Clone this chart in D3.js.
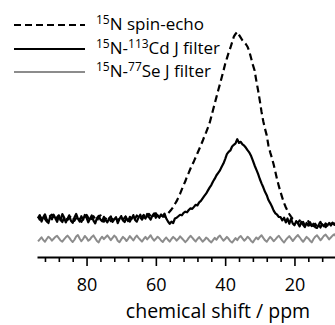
<!DOCTYPE html>
<html>
<head>
<meta charset="utf-8">
<script src="https://cdn.jsdelivr.net/npm/d3@7"></script>
<style>
  body { margin: 0; background: #fff; }
  svg { display: block; font-family: "Open Sans", sans-serif; }
</style>
</head>
<body>
<div id="chart"></div>
<script>
// sampling grid, ppm (94 -> 8, step 0.5)
const ppm = d3.range(94, 7.99, -0.5);

// 15N spin-echo
const spinEcho = [
  1.8, 0.2, 1.4, 2.6, 0.6, -0.8, 1.1, 2.2, 2.9, 0.7,
  -0.3, 1.5, 2.5, 0.5, -1.1, 1.2, 1.9, 0.1, 0.9, 2.4,
  1.4, -0.4, 1.0, 2.1, 0.2, -1.0, 0.7, 1.8, 2.7, 1.2,
  -0.6, 0.9, 2.0, 0.5, -0.5, 1.5, 2.5, 0.6, -0.9, 0.6,
  1.8, 0.8, -0.6, 0.3, 2.1, 1.0, -0.4, 0.7, 1.6, 0.1,
  1.3, 2.3, 0.5, -0.8, 0.9, 2.0, 0.6, 2.4, 1.5, 0.2,
  1.6, 2.7, 0.9, 2.0, 3.3, 2.1, 1.0, 2.8, 3.6, 2.2,
  1.6, 2.8, 2.0, 1.8, 2.6, 3.5, 4.5, 5.6, 6.9, 8.5,
  10.0, 12.0, 14.0, 16.3, 18.5, 20.6, 23.2, 25.2, 27.4, 29.4,
  31.3, 33.4, 35.5, 37.6, 39.8, 42.0, 44.5, 46.6, 49.0, 51.5,
  55.0, 58.5, 62.0, 65.5, 69.0, 72.3, 75.8, 79.3, 83.0, 86.0,
  89.0, 91.5, 94.5, 97.5, 99.0, 100.0, 98.5, 97.0, 95.5, 94.5,
  93.5, 92.0, 89.5, 86.0, 82.5, 79.5, 74.0, 69.0, 63.5, 57.5,
  52.5, 48.5, 45.0, 39.5, 36.0, 33.0, 29.5, 25.5, 21.5, 18.0,
  14.8, 11.8, 9.0, 6.8, 4.8, 3.2, 1.8, 0.6, 0.0, -0.8,
  -1.6, -0.2, -2.4, -1.0, -3.0, -1.8, -0.6, -2.8, -1.4, -3.2,
  -2.0, -3.6, -2.4, -1.0, -3.1, -1.8, -3.8, -2.2, -0.9, -2.8,
  -1.6, -3.0, -1.5
];

// 15N-113Cd J filter
const cdFilter = [
  1.0, 2.6, -0.8, 1.4, 3.0, 0.2, -1.6, 1.8, 0.4, 2.8,
  0.9, -1.0, 2.2, -0.2, 3.1, 1.5, -1.3, 0.6, 2.5, -0.4,
  -1.5, 1.3, 3.2, 0.7, -0.8, 2.0, 0.1, 2.7, 1.1, -1.2,
  0.6, 2.4, -0.3, -1.8, 1.0, 2.2, 0.3, -0.7, 1.7, 0.0,
  -1.3, 0.9, 1.9, -1.0, 0.3, 1.5, -1.7, 0.5, 2.1, -0.2,
  -1.1, 1.1, -0.6, 1.7, 0.6, 2.6, 0.0, -0.9, 1.3, 2.8,
  0.2, 1.9, 0.7, 3.2, 1.5, 0.2, 2.3, 3.5, 1.2, 2.6,
  1.2, 2.8, 1.8, 3.4, 0.8, -0.8, -2.0, -0.9, -1.6, 0.8,
  1.2, 2.0, 2.8, 2.5, 3.8, 4.4, 4.1, 5.3, 6.2, 5.9,
  7.0, 8.1, 7.8, 9.4, 10.2, 11.5, 12.8, 14.0, 15.6, 17.2,
  18.6, 20.5, 22.0, 23.8, 25.1, 26.4, 28.3, 30.0, 32.4, 35.0,
  36.2, 37.0, 39.1, 40.0, 40.8, 43.0, 41.0, 41.6, 40.2, 39.5,
  38.4, 37.0, 35.8, 34.0, 31.6, 29.0, 26.8, 24.5, 21.8, 19.5,
  17.4, 15.0, 13.2, 10.6, 9.0, 7.2, 5.0, 3.5, 2.8, 1.6,
  1.5, -0.2, 1.2, -1.3, 0.8, -2.0, 0.6, -1.8, -2.8, -0.6,
  -1.8, -3.4, -1.0, -2.6, -3.8, -1.6, -3.0, -1.2, -3.2, -2.0,
  -3.8, -4.2, -2.6, -4.0, -2.2, -3.4, -1.8, -3.0, -1.6, -2.8,
  -1.4, -2.6, -1.2
];

// 15N-77Se J filter (drawn offset below)
const seFilter = [
  -11.4, -10.3, -9.2, -10.6, -11.6, -10.1, -8.9, -9.7, -11.0, -10.0,
  -9.0, -8.4, -9.6, -10.9, -11.5, -10.3, -9.2, -8.3, -9.4, -10.7,
  -11.7, -10.5, -8.8, -8.0, -9.8, -11.3, -10.1, -8.5, -9.5, -11.0,
  -10.3, -9.0, -8.2, -9.7, -11.2, -11.9, -10.0, -8.9, -10.2, -9.2,
  -8.2, -9.4, -10.7, -9.5, -8.3, -9.2, -11.0, -11.8, -10.3, -9.0,
  -9.8, -11.2, -10.0, -8.6, -9.7, -10.9, -9.4, -8.3, -9.5, -10.5,
  -11.5, -10.1, -9.0, -10.3, -9.2, -8.1, -9.8, -11.0, -10.0, -8.9,
  -9.7, -10.9, -11.7, -10.3, -9.3, -10.5, -11.5, -10.1, -9.0, -9.8,
  -11.0, -10.0, -8.7, -9.7, -10.7, -11.8, -10.8, -9.5, -8.4, -9.4,
  -10.5, -11.4, -10.1, -9.1, -10.3, -11.5, -10.7, -9.4, -10.0, -11.2,
  -11.9, -10.7, -9.5, -10.5, -9.1, -8.3, -9.7, -11.0, -10.1, -9.0,
  -10.0, -11.3, -12.0, -10.8, -9.6, -10.7, -9.3, -8.5, -9.8, -11.0,
  -10.1, -8.9, -9.8, -11.2, -11.9, -10.5, -9.3, -10.3, -9.0, -8.1,
  -9.5, -10.8, -11.6, -10.2, -9.0, -10.0, -11.3, -10.3, -9.2, -8.4,
  -9.7, -11.0, -12.0, -10.6, -9.5, -8.6, -9.8, -11.2, -10.0, -8.9,
  -8.0, -9.2, -10.5, -11.6, -10.3, -9.0, -9.8, -11.0, -11.9, -10.1,
  -8.9, -8.1, -9.4, -10.8, -9.7, -8.4, -7.8, -9.0, -10.3, -9.3,
  -8.3, -7.6, -8.8
];

const majorTicks = [80, 60, 40, 20];
const minorTicks = [92, 88, 84, 76, 72, 68, 64, 56, 52, 48, 44, 36, 32, 28, 24, 16, 12];

const series = [
  { name: 'spin-echo', values: spinEcho, color: '#000', width: 2.2, dash: '7,4', label: ['15', 'N spin-echo'] },
  { name: 'cd', values: cdFilter, color: '#000', width: 2.2, dash: null, label: ['15', 'N-', '113', 'Cd J filter'] },
  { name: 'se', values: seFilter, color: '#8c8c8c', width: 2, dash: null, label: ['15', 'N-', '77', 'Se J filter'] }
];

function main() {
  const width = 335;
  const height = 325;

  const svg = d3.select('#chart').append('svg')
    .attr('width', width)
    .attr('height', height);

  const x = d3.scaleLinear().domain([94.3, 8.3]).range([37, 335]);
  const y = d3.scaleLinear().domain([0, 100]).range([220, 32]);

  const line = d3.line()
    .x((d, i) => x(ppm[i]))
    .y(d => y(d));

  // gray first, then solid, dashed on top
  series.slice().reverse().forEach(function(s) {
    svg.append('path')
      .datum(s.values)
      .attr('fill', 'none')
      .attr('stroke', s.color)
      .attr('stroke-width', s.width)
      .attr('stroke-dasharray', s.dash)
      .attr('stroke-linejoin', 'round')
      .attr('d', line);
  });

  const axisY = 257;

  const minorAxis = svg.append('g')
    .attr('transform', `translate(0, ${axisY})`)
    .call(d3.axisBottom(x).tickValues(minorTicks).tickSize(5).tickFormat('').tickSizeOuter(0));

  const majorAxis = svg.append('g')
    .attr('transform', `translate(0, ${axisY})`)
    .call(d3.axisBottom(x).tickValues(majorTicks).tickSize(9).tickPadding(12).tickSizeOuter(0));

  majorAxis.select('.domain').remove();
  minorAxis.select('.domain').attr('stroke-width', 2);
  svg.selectAll('.tick line').attr('stroke-width', 1.6);
  majorAxis.selectAll('text')
    .attr('font-family', '"Open Sans", sans-serif')
    .attr('font-size', 18)
    .attr('fill', '#000');

  svg.append('text')
    .attr('x', 218)
    .attr('y', 318)
    .attr('text-anchor', 'middle')
    .attr('font-size', 19.5)
    .text('chemical shift / ppm');

  // legend
  const legend = svg.append('g');
  const rowY = [25, 49, 72];
  series.forEach(function(s, i) {
    legend.append('line')
      .attr('x1', 14).attr('x2', 85)
      .attr('y1', rowY[i]).attr('y2', rowY[i])
      .attr('stroke', s.color)
      .attr('stroke-width', s.width)
      .attr('stroke-dasharray', s.dash);

    const t = legend.append('text')
      .attr('x', 96)
      .attr('y', rowY[i] + 5)
      .attr('font-size', 17);
    s.label.forEach(function(part, j) {
      const sup = j % 2 === 0;
      t.append('tspan')
        .attr('font-size', sup ? 12 : 17)
        .attr('dy', sup ? -6 : 6)
        .text(part);
    });
  });
}

main();
</script>
</body>
</html>
